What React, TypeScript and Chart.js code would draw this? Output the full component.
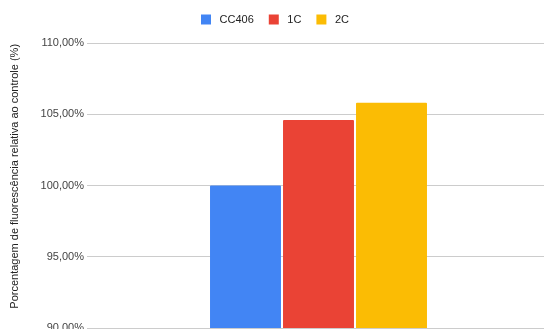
import React, { useEffect, useRef } from "react";
import { Chart, registerables } from "chart.js";

Chart.register(...registerables);

const categories = [""];
const seriesNames = ["CC406", "1C", "2C"];
const seriesValues = [[100.0], [104.6], [105.8]];
const seriesColors = ["#4285F4", "#EA4335", "#FBBC04"];
const yTicks = [90, 95, 100, 105, 110];
const yTitle = "Porcentagem de fluorescência relativa ao controle (%)";

const FONT = "Arial, 'Liberation Sans', sans-serif";

const legendShift = {
  id: "legendShift",
  afterUpdate(chart: any) {
    const lg = chart.legend;
    if (!lg) return;
    lg.top = -1;
    lg.bottom = lg.top + lg.height;
  },
};

export default function App() {
  const ref = useRef<HTMLCanvasElement | null>(null);

  useEffect(() => {
    if (!ref.current) return;
    const chart = new Chart(ref.current, {
      type: "bar",
      data: {
        labels: categories,
        datasets: seriesNames.map((name, i) => ({
          label: " " + name,
          data: seriesValues[i],
          backgroundColor: seriesColors[i],
          borderWidth: 0,
          borderRadius: 1,
          categoryPercentage: 0.473,
          barPercentage: 0.972,
        })),
      },
      options: {
        responsive: false,
        animation: false,
        devicePixelRatio: 1,
        layout: { padding: { left: 0, right: 0, top: 7, bottom: 12 } },
        plugins: {
          legend: {
            position: "top",
            labels: {
              boxWidth: 10,
              boxHeight: 10,
              padding: 15,
              color: "#222",
              font: { family: FONT, size: 11 },
            },
          },
          tooltip: { enabled: false },
        },
        scales: {
          x: { display: false },
          y: {
            min: 90,
            max: 110,
            afterFit(scale: any) {
              scale.width = 87;
            },
            afterBuildTicks(scale: any) {
              scale.ticks = yTicks.map((v) => ({ value: v }));
            },
            border: { display: false },
            grid: { color: "#cccccc", drawTicks: false },
            ticks: {
              padding: 3,
              color: "#444",
              font: { family: FONT, size: 11 },
              callback: (v: any) => Number(v).toFixed(2).replace(".", ",") + "%",
            },
            title: {
              display: true,
              text: "      " + yTitle,
              color: "#222",
              font: { family: FONT, size: 11 },
              padding: { top: 8, bottom: 0 },
            },
          },
        },
      },
      plugins: [legendShift],
    });
    return () => chart.destroy();
  }, []);

  return (
    <div
      style={{
        position: "absolute",
        left: 0,
        top: 0,
        width: 544,
        height: 329,
        overflow: "hidden",
        background: "#fff",
      }}
    >
      <canvas ref={ref} width={550} height={340} style={{ display: "block" }} />
    </div>
  );
}
